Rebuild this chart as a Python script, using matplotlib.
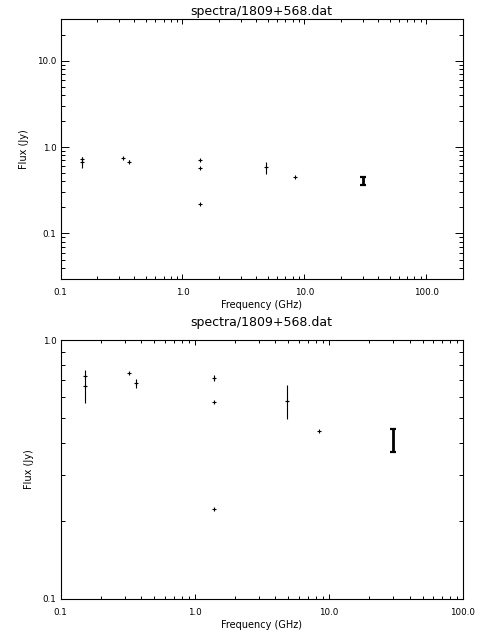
import matplotlib
matplotlib.use('Agg')
from matplotlib import pyplot as plt
from matplotlib.ticker import FixedLocator, LogLocator, FuncFormatter, NullFormatter
import numpy as np

title = 'spectra/1809+568.dat'

freq = [0.151, 0.151, 0.325, 0.365, 1.4, 1.4, 1.4, 4.85, 8.4]
flux = [0.726, 0.666, 0.743, 0.68, 0.715, 0.577, 0.222, 0.581, 0.445]
err = [0.0, 0.097, 0.0, 0.025, 0.018, 0.0, 0.0, 0.088, 0.0]

# the 30 GHz point is drawn with a heavy bar
freq_hi = [30.0]
flux_hi = [0.41]
err_hi = [0.042]

plt.rcParams['font.family'] = 'DejaVu Sans'

def fmt(v, pos):
	return '%.1f' % v

def setup(ax, xlim, ylim, yticks):
	ax.set_xscale('log')
	ax.set_yscale('log')
	ax.set_xlim(*xlim)
	ax.set_ylim(*ylim)
	ax.xaxis.set_major_locator(FixedLocator([0.1, 1, 10, 100]))
	ax.yaxis.set_major_locator(FixedLocator(yticks))
	ax.xaxis.set_minor_locator(LogLocator(base=10, subs=np.arange(2, 10)))
	ax.yaxis.set_minor_locator(LogLocator(base=10, subs=np.arange(2, 10)))
	ax.xaxis.set_major_formatter(FuncFormatter(fmt))
	ax.yaxis.set_major_formatter(FuncFormatter(fmt))
	ax.xaxis.set_minor_formatter(NullFormatter())
	ax.yaxis.set_minor_formatter(NullFormatter())
	ax.tick_params(which='both', direction='in', top=True, right=True, width=0.7, labelsize=6.3, colors='black')
	ax.tick_params(axis='x', which='major', length=3.7, pad=7)
	ax.tick_params(axis='x', which='minor', length=2.0)
	ax.tick_params(axis='y', which='major', length=5.6, pad=3)
	ax.tick_params(axis='y', which='minor', length=3.0)
	for s in ax.spines.values():
		s.set_linewidth(0.8)
	ax.set_xlabel('Frequency (GHz)', fontsize=7, labelpad=2)
	ax.set_ylabel('Flux (Jy)', fontsize=7, labelpad=6)

def draw(ax):
	ax.errorbar(freq, flux, yerr=err, fmt='+', color='black', ms=3, mew=0.8, elinewidth=0.8, capsize=0)
	ax.errorbar(freq_hi, flux_hi, yerr=err_hi, fmt='none', ecolor='black', elinewidth=2, capsize=2.5, capthick=1.6)

fig = plt.figure(figsize=(4.8, 6.4), dpi=100)

ax1 = fig.add_axes([60.5 / 480, (640 - 278.7) / 640, (463 - 60.5) / 480, (278.7 - 19.3) / 640])
setup(ax1, (0.1, 200), (0.03, 30), [0.1, 1, 10])
draw(ax1)
ax1.set_title(title, fontsize=9, pad=3)

ax2 = fig.add_axes([60.5 / 480, (640 - 598.7) / 640, (463 - 60.5) / 480, (598.7 - 340) / 640])
setup(ax2, (0.1, 100), (0.1, 1.0), [0.1, 1.0])
draw(ax2)
ax2.set_title(title, fontsize=9, pad=10)

fig.savefig('out.png', dpi=100)
